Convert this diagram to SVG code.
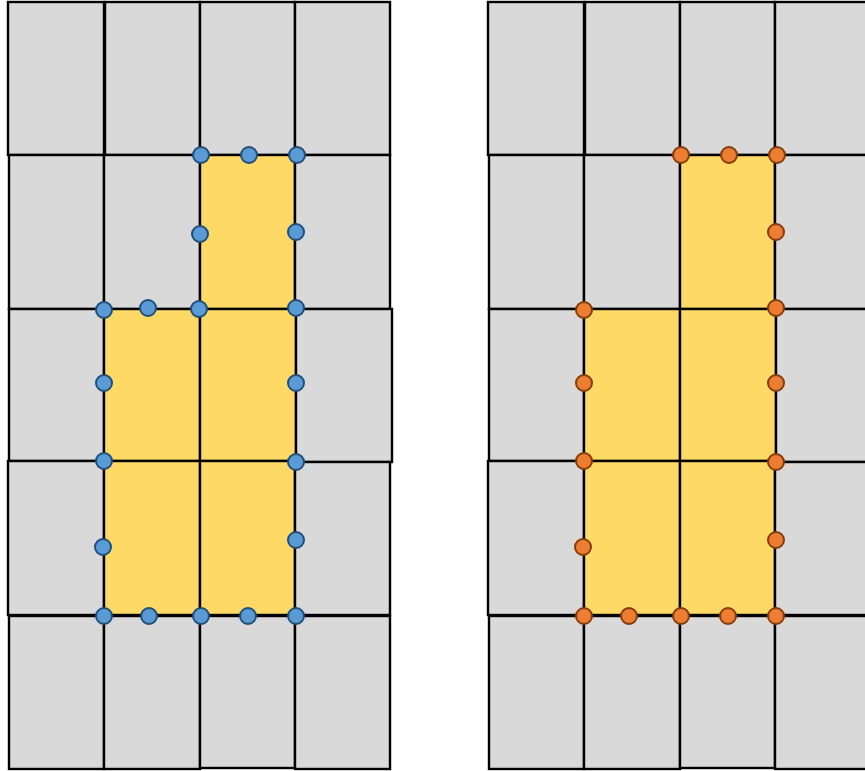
<svg xmlns="http://www.w3.org/2000/svg" width="865" height="771" viewBox="0 0 865 771">
<style>
.c{fill:#d9d9d9;stroke:#000;stroke-width:2.4}
.y{fill:#ffd966;stroke:#000;stroke-width:2.4}
.b{fill:#5b9bd5;stroke:#1f4e79;stroke-width:2}
.o{fill:#ed7d31;stroke:#843c0c;stroke-width:2}
</style>
<rect width="865" height="771" fill="#fff"/>
<g id="left-grid">
<rect class="c" x="8" y="2" width="96" height="153"/>
<rect class="c" x="105" y="2" width="95" height="153"/>
<rect class="c" x="200" y="2" width="95" height="153"/>
<rect class="c" x="295" y="2" width="95" height="153"/>
<rect class="c" x="9" y="155" width="95" height="154"/>
<rect class="c" x="104" y="155" width="96" height="154"/>
<rect class="y" x="200" y="155" width="95" height="154"/>
<rect class="c" x="295" y="155" width="95" height="154"/>
<rect class="c" x="9" y="309" width="95" height="152"/>
<rect class="y" x="104" y="309" width="96" height="152"/>
<rect class="y" x="200" y="309" width="96" height="152"/>
<rect class="c" x="296" y="309" width="96" height="153"/>
<rect class="c" x="8" y="461" width="96" height="154"/>
<rect class="y" x="104" y="461" width="96" height="154"/>
<rect class="y" x="200" y="461" width="95" height="154"/>
<rect class="c" x="295" y="462" width="95" height="153"/>
<rect class="c" x="9" y="616" width="95" height="153"/>
<rect class="c" x="104" y="616" width="96" height="153"/>
<rect class="c" x="200" y="616" width="95" height="152"/>
<rect class="c" x="295" y="616" width="95" height="153"/>
</g>
<g id="right-grid">
<rect class="c" x="488" y="2" width="96" height="153"/>
<rect class="c" x="585" y="2" width="95" height="153"/>
<rect class="c" x="680" y="2" width="95" height="153"/>
<rect class="c" x="775" y="2" width="95" height="153"/>
<rect class="c" x="489" y="155" width="95" height="154"/>
<rect class="c" x="584" y="155" width="96" height="154"/>
<rect class="y" x="680" y="155" width="95" height="154"/>
<rect class="c" x="775" y="155" width="95" height="154"/>
<rect class="c" x="489" y="309" width="95" height="152"/>
<rect class="y" x="584" y="309" width="96" height="152"/>
<rect class="y" x="680" y="309" width="96" height="152"/>
<rect class="c" x="776" y="309" width="96" height="153"/>
<rect class="c" x="488" y="461" width="96" height="154"/>
<rect class="y" x="584" y="461" width="96" height="154"/>
<rect class="y" x="680" y="461" width="95" height="154"/>
<rect class="c" x="775" y="462" width="95" height="153"/>
<rect class="c" x="489" y="616" width="95" height="153"/>
<rect class="c" x="584" y="616" width="96" height="153"/>
<rect class="c" x="680" y="616" width="95" height="152"/>
<rect class="c" x="775" y="616" width="95" height="153"/>
</g>
<g id="left-dots">
<circle class="b" cx="201" cy="155" r="8"/>
<circle class="b" cx="249" cy="155" r="8"/>
<circle class="b" cx="297" cy="155" r="8"/>
<circle class="b" cx="200" cy="234" r="8"/>
<circle class="b" cx="296" cy="232" r="8"/>
<circle class="b" cx="104" cy="310" r="8"/>
<circle class="b" cx="148" cy="308" r="8"/>
<circle class="b" cx="199" cy="309" r="8"/>
<circle class="b" cx="296" cy="308" r="8"/>
<circle class="b" cx="104" cy="383" r="8"/>
<circle class="b" cx="296" cy="383" r="8"/>
<circle class="b" cx="104" cy="461" r="8"/>
<circle class="b" cx="296" cy="462" r="8"/>
<circle class="b" cx="103" cy="547" r="8"/>
<circle class="b" cx="296" cy="540" r="8"/>
<circle class="b" cx="104" cy="616" r="8"/>
<circle class="b" cx="149" cy="616" r="8"/>
<circle class="b" cx="201" cy="616" r="8"/>
<circle class="b" cx="248" cy="616" r="8"/>
<circle class="b" cx="296" cy="616" r="8"/>
</g>
<g id="right-dots">
<circle class="o" cx="681" cy="155" r="8"/>
<circle class="o" cx="729" cy="155" r="8"/>
<circle class="o" cx="777" cy="155" r="8"/>
<circle class="o" cx="776" cy="232" r="8"/>
<circle class="o" cx="584" cy="310" r="8"/>
<circle class="o" cx="776" cy="308" r="8"/>
<circle class="o" cx="584" cy="383" r="8"/>
<circle class="o" cx="776" cy="383" r="8"/>
<circle class="o" cx="584" cy="461" r="8"/>
<circle class="o" cx="776" cy="462" r="8"/>
<circle class="o" cx="583" cy="547" r="8"/>
<circle class="o" cx="776" cy="540" r="8"/>
<circle class="o" cx="584" cy="616" r="8"/>
<circle class="o" cx="629" cy="616" r="8"/>
<circle class="o" cx="681" cy="616" r="8"/>
<circle class="o" cx="728" cy="616" r="8"/>
<circle class="o" cx="776" cy="616" r="8"/>
</g>
</svg>
